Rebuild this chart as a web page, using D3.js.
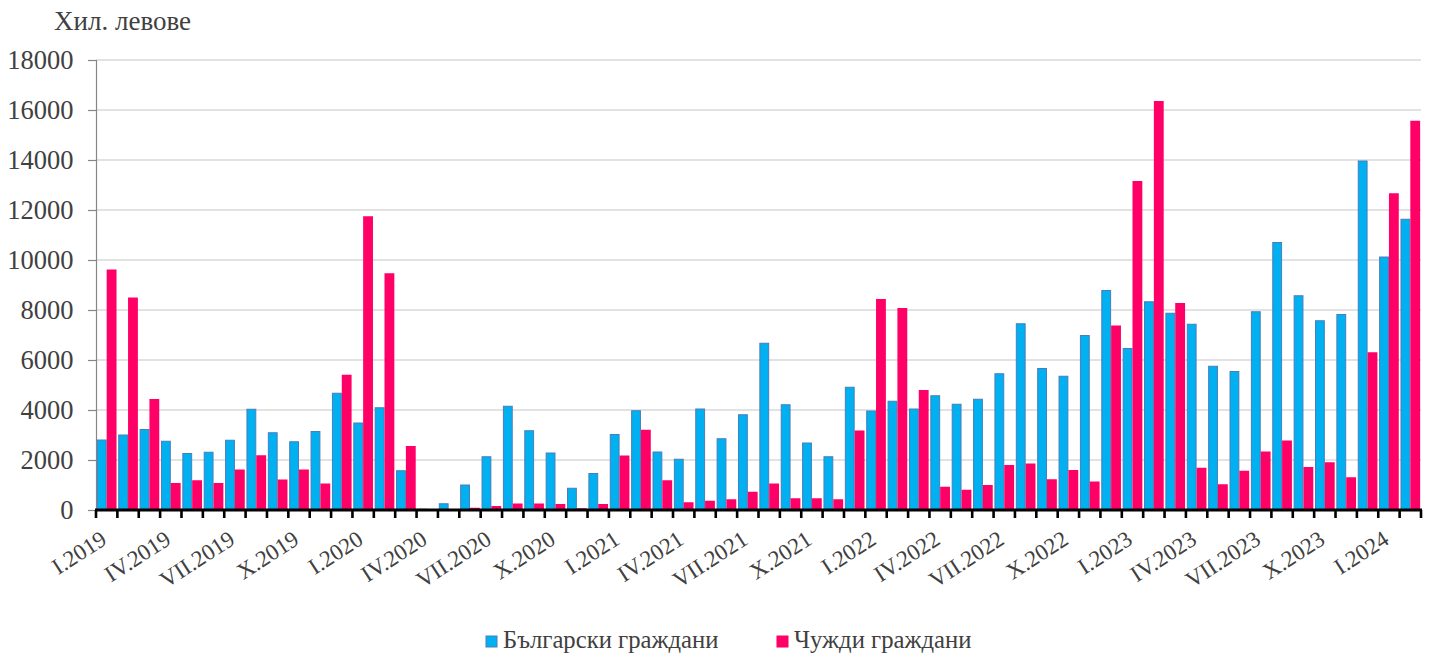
<!DOCTYPE html>
<html>
<head>
<meta charset="utf-8">
<script src="https://cdn.jsdelivr.net/npm/d3@7"></script>
<style>
  html, body { margin: 0; padding: 0; background: #fff; }
  svg { display: block; }
  svg text { font-family: "Liberation Serif", Tinos, "Times New Roman", serif !important; fill: #404040; }
</style>
</head>
<body>
<svg id="chart" width="1429" height="658"></svg>
<script>
const months = [
  "I.2019","II.2019","III.2019","IV.2019","V.2019","VI.2019","VII.2019","VIII.2019","IX.2019","X.2019","XI.2019","XII.2019",
  "I.2020","II.2020","III.2020","IV.2020","V.2020","VI.2020","VII.2020","VIII.2020","IX.2020","X.2020","XI.2020","XII.2020",
  "I.2021","II.2021","III.2021","IV.2021","V.2021","VI.2021","VII.2021","VIII.2021","IX.2021","X.2021","XI.2021","XII.2021",
  "I.2022","II.2022","III.2022","IV.2022","V.2022","VI.2022","VII.2022","VIII.2022","IX.2022","X.2022","XI.2022","XII.2022",
  "I.2023","II.2023","III.2023","IV.2023","V.2023","VI.2023","VII.2023","VIII.2023","IX.2023","X.2023","XI.2023","XII.2023",
  "I.2024","II.2024"
];
const tickLabels = ["I.2019","IV.2019","VII.2019","X.2019","I.2020","IV.2020","VII.2020","X.2020",
  "I.2021","IV.2021","VII.2021","X.2021","I.2022","IV.2022","VII.2022","X.2022",
  "I.2023","IV.2023","VII.2023","X.2023","I.2024"];
const bulgarian = [
  2800,3000,3220,2750,2260,2310,2790,4030,3090,2730,3140,4670,
  3480,4090,1570,30,250,1000,2130,4150,3170,2280,870,1460,
  3020,3970,2320,2030,4040,2850,3810,6670,4210,2680,2130,4910,
  3960,4350,4040,4570,4230,4430,5450,7450,5660,5350,6980,8780,
  6460,8330,7870,7430,5750,5540,7930,10700,8570,7570,7820,13960,
  10120,11630
];
const foreign = [
  9620,8500,4440,1080,1190,1080,1620,2190,1220,1620,1060,5410,
  11750,9470,2560,20,20,90,160,260,260,240,70,240,
  2180,3210,1190,310,370,430,730,1060,470,470,430,3180,
  8440,8080,4800,930,810,1000,1800,1860,1230,1600,1140,7380,
  13160,16360,8280,1690,1030,1570,2340,2780,1720,1910,1310,6310,
  12670,15570
];
const seriesNames = ["Български граждани", "Чужди граждани"];
const yTicks = [0,2000,4000,6000,8000,10000,12000,14000,16000,18000];
const unitLabel = "Хил. левове";

(function () {
const svg = d3.select("#chart");
const FONT = '"Liberation Serif", Tinos, "Times New Roman", serif';
const pL = 96, pR = 1421, pT = 60, pB = 510;

const x = d3.scaleBand().domain(months).range([pL, pR]).paddingInner(0.08).paddingOuter(0.04);
const sub = d3.scaleBand().domain([0,1]).range([0, x.bandwidth()]);
const y = d3.scaleLinear().domain([0, 18000]).range([pB, pT]);
const colors = ["#00B0F0", "#FF0066"];
const strokes = ["#4A7EBB", "#FF0066"];

// gridlines
svg.append("g").selectAll("line").data(yTicks.filter(d => d > 0)).join("line")
  .attr("x1", pL).attr("x2", pR)
  .attr("y1", d => y(d)).attr("y2", d => y(d))
  .attr("stroke", "#D9D9D9").attr("stroke-width", 1.5);

// y axis
const yAxis = d3.axisLeft(y).tickValues(yTicks).tickSize(8).tickPadding(14.5).tickFormat(d3.format("d"));
const yg = svg.append("g").attr("transform", `translate(${pL},0)`).call(yAxis)
  .attr("font-family", FONT);
yg.select(".domain").attr("stroke", "#868686").attr("stroke-width", 1.2);
yg.selectAll(".tick line").attr("stroke", "#868686").attr("stroke-width", 1.2);
yg.selectAll(".tick text").attr("font-size", 26.5).attr("fill", "#404040");

// bars
const data = months.map((m, i) => ({ m, vals: [bulgarian[i], foreign[i]] }));
const groups = svg.append("g").selectAll("g").data(data).join("g")
  .attr("transform", d => `translate(${x(d.m)},0)`);
groups.selectAll("rect").data(d => d.vals.map((v, k) => ({ v, k }))).join("rect")
  .attr("x", d => sub(d.k) + (d.k === 0 ? 0.5 : 0))
  .attr("width", d => sub.bandwidth() - (d.k === 0 ? 1 : 0))
  .attr("y", d => y(d.v))
  .attr("height", d => Math.max(0, pB - y(d.v)))
  .attr("fill", d => colors[d.k])
  .attr("stroke", d => d.k === 0 ? strokes[0] : "none")
  .attr("stroke-width", 1);

// x axis ticks at month boundaries
const boundaries = d3.range(months.length + 1).map(i => pL + i * (pR - pL) / months.length);
svg.append("g").selectAll("line").data(boundaries).join("line")
  .attr("x1", d => d).attr("x2", d => d)
  .attr("y1", pB).attr("y2", pB + 8)
  .attr("stroke", "#000").attr("stroke-width", 2.6);
svg.append("line").attr("x1", pL - 1).attr("x2", pR + 1)
  .attr("y1", pB).attr("y2", pB)
  .attr("stroke", "#000").attr("stroke-width", 2.8);

// x tick labels
svg.append("g").attr("font-family", FONT).selectAll("text").data(tickLabels).join("text")
  .attr("transform", d => `translate(${x(d) + x.bandwidth() / 2 + 1.5},${pB + 33}) rotate(-33)`)
  .attr("text-anchor", "end")
  .attr("font-size", 23)
  .text(d => d);

// unit label
svg.append("text").attr("font-family", FONT).attr("x", 54).attr("y", 30).attr("font-size", 27).text(unitLabel);

// legend
const legend = svg.append("g").attr("font-family", FONT);
const legendX = [486, 777];
seriesNames.forEach((name, k) => {
  const g = legend.append("g").attr("transform", `translate(${legendX[k]},636)`);
  g.append("rect").attr("width", 11).attr("height", 11)
    .attr("fill", colors[k]).attr("stroke", strokes[k]).attr("stroke-width", 1);
  g.append("text").attr("x", 17).attr("y", 11).attr("dy", "0.05em").attr("font-size", 24.7).text(name);
});
})();
</script>
</body>
</html>
